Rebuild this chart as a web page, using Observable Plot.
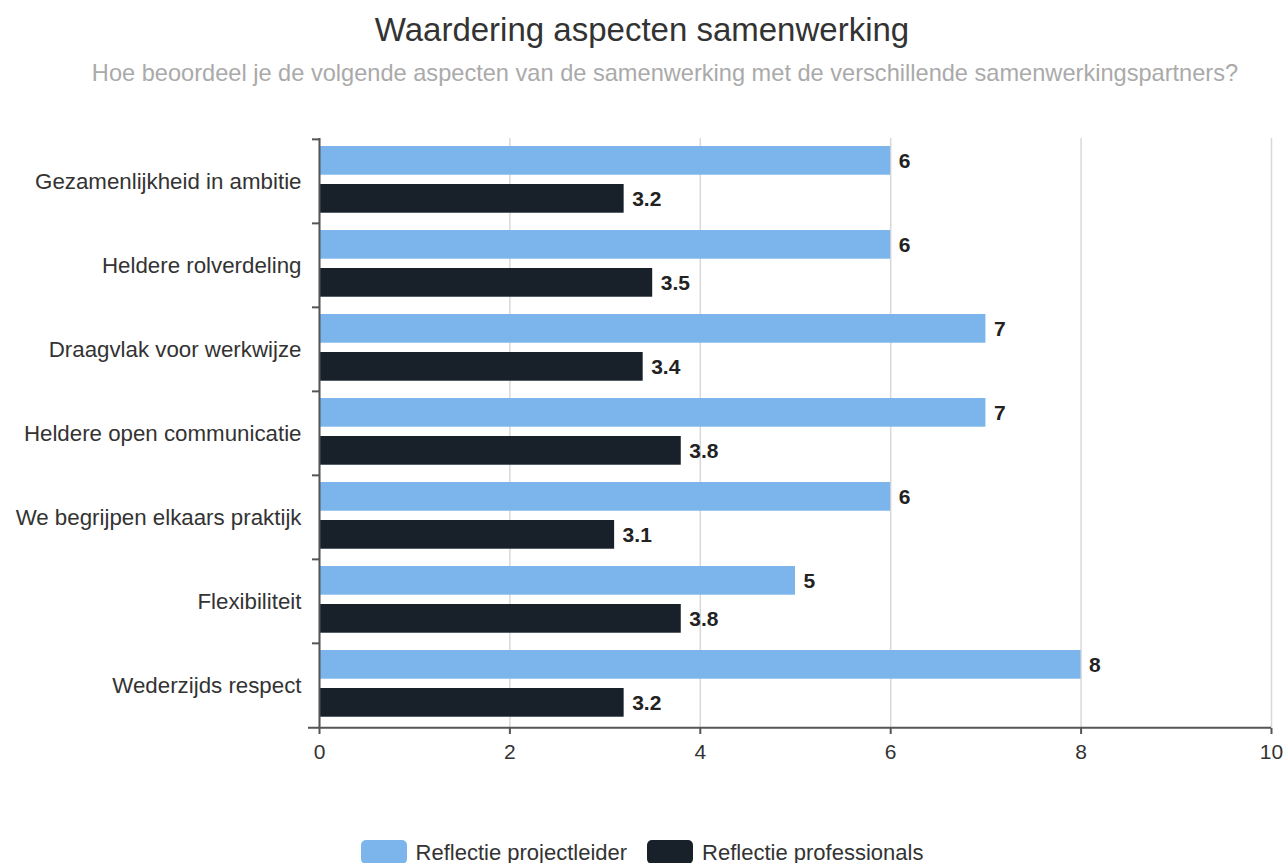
<!DOCTYPE html>
<html><head><meta charset="utf-8">
<script src="https://cdn.jsdelivr.net/npm/d3@7"></script>
<script src="https://cdn.jsdelivr.net/npm/@observablehq/plot@0.6"></script>
<style>
body{margin:0;background:#fff;font-family:"Liberation Sans",Arial,Helvetica,sans-serif;}
#title{height:60px;line-height:60px;text-align:center;font-size:33px;color:#333;}
#subtitle{height:26px;line-height:26px;text-align:center;font-size:23.6px;color:#aaa;padding-left:46px;white-space:nowrap;}
#chart svg{display:block;}
#legend{display:flex;justify-content:center;padding-top:40px;font-size:22px;color:#333;}
.item{display:flex;align-items:flex-start;height:26px;line-height:26px;margin:0 10px;}
.sw{width:46px;height:24px;border-radius:5px;margin-right:9px;}
</style></head><body>
<div id="title"></div><div id="subtitle"></div><div id="chart"></div><div id="legend"></div>
<script>
const titleText = "Waardering aspecten samenwerking";
const subtitleText = "Hoe beoordeel je de volgende aspecten van de samenwerking met de verschillende samenwerkingspartners?";
const categories = ["Gezamenlijkheid in ambitie","Heldere rolverdeling","Draagvlak voor werkwijze","Heldere open communicatie","We begrijpen elkaars praktijk","Flexibiliteit","Wederzijds respect"];
const series = ["Reflectie projectleider","Reflectie professionals"];
const projectleider = [6,6,7,7,6,5,8];
const professionals = [3.2,3.5,3.4,3.8,3.1,3.8,3.2];
const colors = ["#7cb5ec","#18202a"];
const xTicks = [0,2,4,6,8,10];

document.getElementById("title").textContent = titleText;
document.getElementById("subtitle").textContent = subtitleText;

const W = 1284, H = 714, mt = 52, mb = 72, ml = 319, mr = 13;
const band = (H - mt - mb) / categories.length;

const rowsA = categories.map((c, i) => ({category: c, series: series[0], value: projectleider[i]}));
const rowsB = categories.map((c, i) => ({category: c, series: series[1], value: professionals[i]}));
const fmt = v => String(v);

const chart = Plot.plot({
  width: W, height: H,
  marginTop: mt, marginBottom: mb, marginLeft: ml, marginRight: mr,
  style: {fontFamily: '"Liberation Sans", Arial, sans-serif', background: "#fff"},
  x: {domain: [xTicks[0], xTicks[xTicks.length - 1]]},
  y: {domain: categories, padding: 0},
  marks: [
    Plot.gridX(xTicks, {stroke: "#d8d8d8", strokeOpacity: 1, strokeWidth: 1.5}),
    Plot.barX(rowsA, {x: "value", y: "category", fill: colors[0], insetTop: 7, insetBottom: band - 36}),
    Plot.barX(rowsB, {x: "value", y: "category", fill: colors[1], insetTop: 45, insetBottom: band - 74}),
    Plot.text(rowsA, {x: "value", y: "category", text: d => fmt(d.value), dx: 8, dy: 21.5 - band / 2, textAnchor: "start", fontSize: 21, fontWeight: "bold", fill: "#222"}),
    Plot.text(rowsB, {x: "value", y: "category", text: d => fmt(d.value), dx: 8, dy: 59.5 - band / 2, textAnchor: "start", fontSize: 21, fontWeight: "bold", fill: "#222"}),
    Plot.ruleX([xTicks[0]], {stroke: "#555", strokeWidth: 2}),
    Plot.ruleY([categories[categories.length - 1]], {dy: band / 2, insetLeft: -11, stroke: "#555", strokeWidth: 2}),
    Plot.axisY({tickSize: 0, tickPadding: 18, fontSize: 22.3, fill: "#333", label: null}),
    Plot.axisY({text: null, tickSize: 7, dy: -band / 2, stroke: "#555", strokeWidth: 2, label: null}),
    Plot.axisX(xTicks, {tickSize: 6, tickPadding: 10, fontSize: 21, fill: "#333", stroke: "#555", strokeWidth: 2, label: null})
  ]
});
document.getElementById("chart").appendChild(chart);

const legend = document.getElementById("legend");
series.forEach((s, i) => {
  const it = document.createElement("div"); it.className = "item";
  const sw = document.createElement("div"); sw.className = "sw"; sw.style.background = colors[i];
  const t = document.createElement("span"); t.textContent = s;
  it.appendChild(sw); it.appendChild(t); legend.appendChild(it);
});
</script>
</body></html>
